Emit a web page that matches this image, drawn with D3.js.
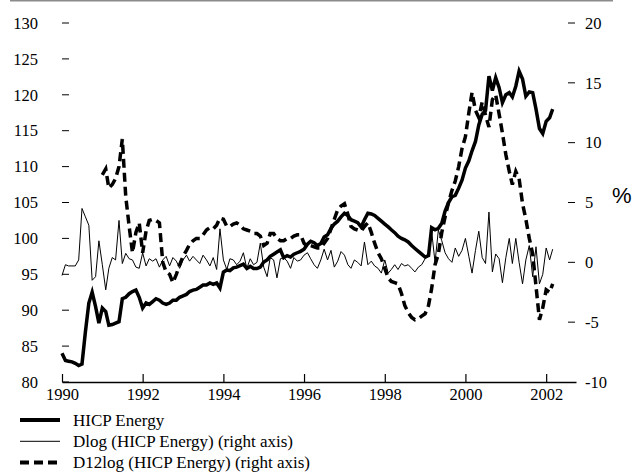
<!DOCTYPE html>
<html>
<head>
<meta charset="utf-8">
<script src="https://cdn.jsdelivr.net/npm/d3@7"></script>
<style>
  body { margin: 0; background: #fff; }
  .tickText { font-family: "Liberation Serif", "Times New Roman", serif; font-size: 16.5px; fill: #000; }
  .legendText { font-family: "Liberation Serif", "Times New Roman", serif; font-size: 17px; fill: #000; }
</style>
</head>
<body>
<div class="chart"></div>
<script>
// Monthly data, Jan 1990 - Mar 2002
var hicpStart = new Date(1990, 0, 1);
var d12Start = new Date(1991, 0, 1);

var hicpEnergy = [
  84.0, 83.0, 82.9, 82.8, 82.6, 82.3, 82.5, 87.0, 91.0, 92.5, 90.5, 88.2,
  90.3, 89.8, 87.9, 88.0, 88.2, 88.4, 91.6, 91.8, 92.3, 92.6, 92.8, 91.8,
  90.3, 91.0, 90.8, 91.2, 91.6, 91.4, 91.0, 90.8, 91.0, 91.4, 91.4, 91.8,
  92.0, 92.2, 92.6, 92.8, 92.9, 93.2, 93.5, 93.5, 93.8, 93.6, 93.8, 93.1,
  95.3, 95.6, 95.5, 95.9, 96.0, 96.2, 96.4, 95.8, 96.1, 95.8, 95.8, 96.0,
  96.7, 97.0, 97.5, 97.8, 98.1, 98.4, 97.3, 97.6, 97.4, 97.8, 98.0, 98.2,
  98.5, 99.2, 99.6, 99.4, 99.0, 99.3, 100.2, 100.5, 101.4, 102.0, 102.4, 103.0,
  103.5, 103.2, 102.6, 102.4, 102.2, 101.6, 102.6, 103.5, 103.4, 103.2, 102.8, 102.4,
  102.0, 101.6, 101.2, 100.8, 100.3, 100.0, 99.8, 99.5, 99.0, 98.6, 98.2, 97.8,
  97.4, 97.6, 101.5, 101.2, 101.4, 102.1, 103.8, 105.0, 105.8, 106.0, 107.0, 108.1,
  109.8, 110.8, 112.2, 113.5, 115.8, 117.3, 117.8, 122.6, 120.6, 122.4, 121.0, 118.9,
  120.0, 120.3, 119.7, 121.2, 123.3, 122.2, 119.8, 120.4, 120.3, 118.0, 115.3, 114.6,
  116.3, 116.8, 118.0
];

var dlog = [
  -1.1, -0.2, -0.3, -0.3, -0.3, 0.2, 4.5, 3.8, 3.1, -1.5, -1.2, 1.8,
  -0.2, -2.3, -0.5, 0.4, 0.2, 3.5, -0.1, 0.75, 0.3, 0.2, -0.4, -0.5,
  0.8, -0.3, 0.3, 0.1, 0.3, -0.4, 0.2, 0.5, -0.3, 0.4, 0.1, -0.5,
  0.2, 0.6, 0.1, 0.5, 0.2, -0.1, 0.6, 0.2, -0.3, 0.4, -0.6, 2.8,
  0.2, -0.6, 0.3, 0.2, -0.2, 0.1, 0.8, -0.5, 0.3, -0.2, 0.0, 1.6,
  -0.4, -1.2, 0.4, 0.2, -1.3, 0.3, 0.4, 0.1, -0.5, 0.4, 0.1, 0.2,
  0.6, 0.8, 0.3, -0.2, -0.5, 0.2, 1.1, 0.2, 1.0, -0.4, 0.1, 0.9,
  0.6, -0.2, -0.5, 0.2, 0.0, -0.3, 1.7, -0.2, 0.1, -0.3, -0.5, -0.9,
  0.2, -0.9, -0.6, -0.2, -0.6, -0.1, -0.3, -0.2, -0.5, -0.8, -0.4, -0.2,
  0.3, 0.5, 2.6, 0.0, 2.7, 1.8, 0.8, 0.3, 0.0, 1.2, 0.5, 1.0,
  2.0, 0.5, -0.9, 1.0, 2.6, 0.4, -0.1, 4.2, -0.8, 0.7, 0.3, -1.7,
  0.4, 2.0, -0.1, 2.0, 0.0, -1.8, 0.2, 1.4, -1.2, 1.3, -1.8, -1.0,
  1.2, 0.2, 1.1
];

var d12log = [
  7.3, 7.8, 6.2, 6.5, 7.0, 8.0, 10.3, 5.5, 3.0, 0.8, 2.5, 3.3,
  0.8, 2.6, 3.5, 3.6, 3.5, 3.3, 0.0, -0.8, -1.0, -1.7, -1.0, -0.2,
  0.5, 1.0, 1.5, 1.8, 2.0, 2.0, 2.3, 2.7, 2.9, 2.8, 3.1, 3.7,
  3.6, 3.0, 3.0, 3.2, 3.3, 3.1, 2.8, 2.7, 2.6, 2.4, 2.4, 2.2,
  1.4, 1.6, 2.4, 2.4, 2.0, 1.8, 1.8, 2.0, 2.0, 2.2, 2.3, 2.3,
  1.6, 1.3, 1.4, 1.3, 1.2, 1.2, 1.6, 2.0, 2.8, 3.6, 4.4, 4.7,
  4.9, 4.0, 3.0, 2.8, 2.7, 2.6, 3.0, 3.3, 2.5, 1.6, 0.8, 0.3,
  -0.5, -1.3, -1.6, -1.7, -1.8, -2.6, -3.6, -4.2, -4.6, -4.8, -4.7, -4.5,
  -4.3, -3.6, -2.2, -0.2, 0.7, 2.5, 3.8, 5.0, 6.0, 6.8, 8.0, 9.5,
  10.5, 12.5, 14.2, 12.7, 12.1, 13.4, 12.3, 11.3, 13.6, 14.0, 12.4, 10.8,
  9.0, 7.6, 6.5, 7.6, 7.0, 4.9, 3.6, 2.0, 0.7, -2.0, -4.8, -3.8,
  -2.3, -2.5, -1.8
];

var leftTicks = [80, 85, 90, 95, 100, 105, 110, 115, 120, 125, 130];
var rightTicks = [-10, -5, 0, 5, 10, 15, 20];
var yearTicks = [1990, 1992, 1994, 1996, 1998, 2000, 2002];
var legendLabels = ["HICP Energy", "Dlog (HICP Energy) (right axis)", "D12log (HICP Energy) (right axis)"];

var svgWidth = 637;
var svgHeight = 473;

var svg = d3.select(".chart")
  .append("svg")
  .attr("width", svgWidth)
  .attr("height", svgHeight);

// Scales
var x = d3.scaleTime()
  .domain([new Date(1990, 0, 1), new Date(2002, 8, 28)])
  .range([62, 576]);

var yLeft = d3.scaleLinear().domain([80, 130]).range([382, 23]);
var yRight = d3.scaleLinear().domain([-10, 20]).range([382, 23]);

function monthDate(start, i) {
  return d3.timeMonth.offset(start, i);
}

var hicpData = hicpEnergy.map((v, i) => ({ date: monthDate(hicpStart, i), value: v }));
var dlogData = dlog.map((v, i) => ({ date: monthDate(hicpStart, i), value: v }));
var d12Data = d12log.map((v, i) => ({ date: monthDate(d12Start, i), value: v }));

// top rule
svg.append("line")
  .attr("x1", 10).attr("x2", 613)
  .attr("y1", 0.5).attr("y2", 0.5)
  .attr("stroke", "#8c8c8c")
  .attr("stroke-width", 2);

// Left axis: dash marks + labels
var leftG = svg.append("g");
leftG.selectAll("line")
  .data(leftTicks)
  .enter()
  .append("line")
  .attr("x1", 62).attr("x2", 69)
  .attr("y1", d => yLeft(d)).attr("y2", d => yLeft(d))
  .attr("stroke", "#000")
  .attr("stroke-width", 1);
leftG.selectAll("text")
  .data(leftTicks)
  .enter()
  .append("text")
  .attr("class", "tickText")
  .attr("x", 38)
  .attr("y", d => yLeft(d))
  .attr("dy", "0.35em")
  .attr("text-anchor", "end")
  .text(d => d);

// Right axis
var rightG = svg.append("g");
rightG.selectAll("line")
  .data(rightTicks.filter(d => d > -10))
  .enter()
  .append("line")
  .attr("x1", 568).attr("x2", 575)
  .attr("y1", d => yRight(d)).attr("y2", d => yRight(d))
  .attr("stroke", "#000")
  .attr("stroke-width", 1);
rightG.selectAll("text")
  .data(rightTicks)
  .enter()
  .append("text")
  .attr("class", "tickText")
  .attr("x", 585)
  .attr("y", d => yRight(d))
  .attr("dy", "0.35em")
  .text(d => d);

svg.append("text")
  .attr("x", 612)
  .attr("y", 203)
  .style("font-family", "'Liberation Sans', Arial, sans-serif")
  .style("font-size", "22px")
  .text("%");

// Bottom axis
var bottomAxis = d3.axisBottom(x)
  .tickValues(yearTicks.map(y => new Date(y, 0, 1)))
  .tickFormat(d3.timeFormat("%Y"))
  .tickSizeInner(-8)
  .tickSizeOuter(0)
  .tickPadding(6);

var xAxisG = svg.append("g")
  .attr("transform", "translate(0, 382)")
  .call(bottomAxis);
xAxisG.select(".domain").attr("stroke-width", 1.3);
xAxisG.selectAll(".tick line").attr("stroke-width", 1.2);
xAxisG.selectAll(".tick text")
  .attr("class", "tickText")
  .attr("font-family", null)
  .attr("font-size", null);

// Lines
var lineLeft = d3.line().x(d => x(d.date)).y(d => yLeft(d.value));
var lineRight = d3.line().x(d => x(d.date)).y(d => yRight(d.value));

svg.append("path")
  .datum(dlogData)
  .attr("d", lineRight)
  .attr("fill", "none")
  .attr("stroke", "#000")
  .attr("stroke-width", 1);

svg.append("path")
  .datum(d12Data)
  .attr("d", lineRight)
  .attr("fill", "none")
  .attr("stroke", "#000")
  .attr("stroke-width", 3.5)
  .attr("stroke-dasharray", "9,5");

svg.append("path")
  .datum(hicpData)
  .attr("d", lineLeft)
  .attr("fill", "none")
  .attr("stroke", "#000")
  .attr("stroke-width", 3.5);

// Legend
var legendStyles = [
  { width: 4, dash: null },
  { width: 1, dash: null },
  { width: 4, dash: "9,5" }
];
var legend = svg.selectAll(".legendItem")
  .data(legendLabels)
  .enter()
  .append("g")
  .attr("class", "legendItem")
  .attr("transform", (d, i) => `translate(0, ${420 + i * 21.3})`);

legend.append("line")
  .attr("x1", 20).attr("x2", 60)
  .attr("y1", 0).attr("y2", 0)
  .attr("stroke", "#000")
  .attr("stroke-width", (d, i) => legendStyles[i].width)
  .attr("stroke-dasharray", (d, i) => legendStyles[i].dash);

legend.append("text")
  .attr("class", "legendText")
  .attr("x", 73)
  .attr("y", 0)
  .attr("dy", "0.33em")
  .text(d => d);
</script>
</body>
</html>
